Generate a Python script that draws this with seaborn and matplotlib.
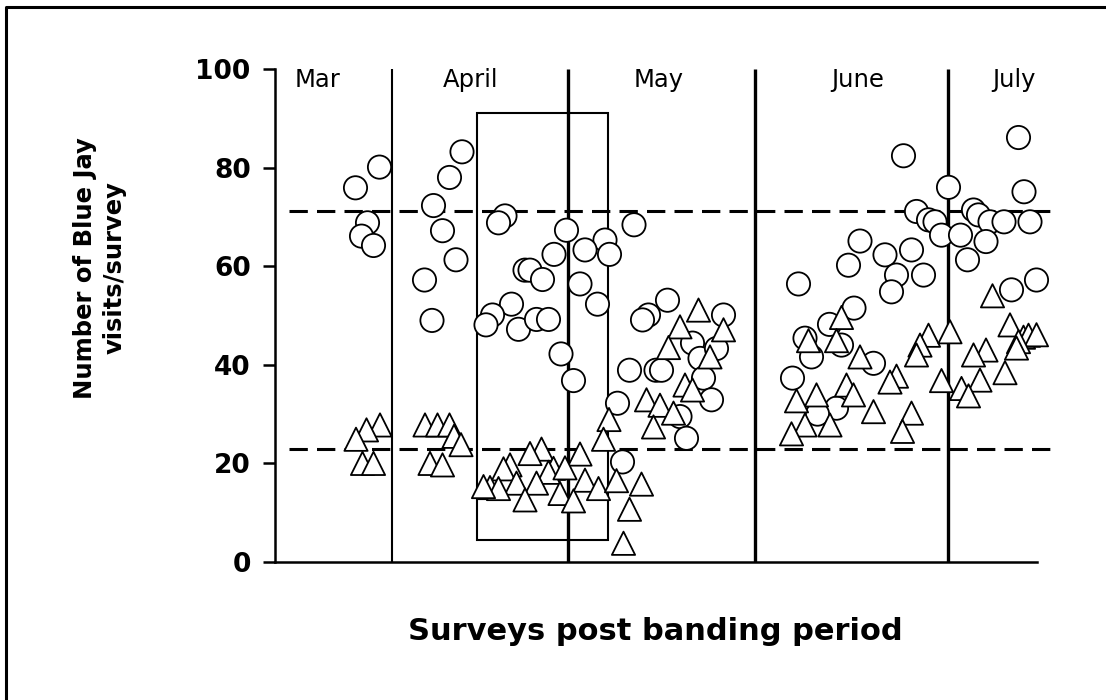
import matplotlib
matplotlib.use("Agg")
import matplotlib.pyplot as plt
import seaborn as sns
import pandas as pd
from matplotlib.lines import Line2D
from matplotlib.patches import Rectangle


# =====================
# Data
# =====================

circle_survey = [
    20.9, 16.1, 18.5, 17.3, 19.7,
    37.4, 34.9, 31.7, 33.5, 36.2, 29.9, 31.4,
    46.0, 44.7, 58.3, 66.0, 62.0, 66.9, 55.8, 50.0, 51.0, 53.5, 61.0,
    47.3, 64.5, 43.5, 42.2, 48.7, 52.3, 54.7, 57.2, 59.7,
    71.8, 78.5, 74.7, 73.5, 89.7, 83.5, 85.0, 88.3, 70.9, 76.2, 77.3,
    85.7, 87.3, 68.5, 81.0, 82.3, 69.5,
    125.7, 134.7, 128.3, 130.7, 132.0, 133.3, 117.0, 122.0, 127.3, 114.7,
    124.3, 129.7, 123.3, 104.7, 115.8, 110.9, 106.0, 113.3, 107.3, 119.7,
    103.5, 112.3, 108.5,
    148.7, 149.8, 139.7, 140.7, 143.0, 145.8, 151.0, 137.1, 142.2, 138.5,
    147.3, 152.3,
]

circle_visits = [
    80.1, 75.9, 68.8, 66.1, 64.2,
    83.2, 78.0, 72.3, 67.2, 61.3, 57.2, 49.0,
    70.2, 68.8, 67.3, 65.3, 63.3, 62.4, 62.4, 59.2, 59.2, 57.3, 56.4,
    52.3, 52.3, 50.1, 48.1, 47.2, 49.2, 49.2, 42.2, 36.8,
    68.4, 53.1, 50.1, 49.1, 50.1, 44.4, 41.3, 43.3, 38.9, 38.9, 38.9,
    37.3, 32.9, 32.2, 29.5, 25.1, 20.3,
    82.4, 76.0, 71.1, 69.4, 69.0, 66.3, 65.1, 62.3, 63.3, 60.2,
    58.2, 58.2, 54.8, 56.4, 51.5, 48.2, 45.4, 44.0, 41.6, 40.3,
    37.3, 31.2, 30.0,
    86.1, 75.1, 71.4, 70.4, 69.0, 69.0, 69.0, 66.3, 65.0, 61.3,
    55.2, 57.2,
]

triangle_survey = [
    21.0, 18.3, 16.2, 17.5, 19.7,
    30.0, 32.5, 34.9, 35.8, 37.2, 31.0, 33.5,
    53.3, 51.0, 61.0, 47.0, 45.7, 55.7, 54.7, 58.0, 62.0, 48.3, 52.3,
    43.0, 44.7, 64.7, 57.0, 50.0, 59.7, 41.7,
    66.8, 65.7, 84.7, 81.0, 89.7, 78.7, 87.0, 82.0, 83.5, 74.3, 77.0,
    79.7, 75.7, 68.3, 73.3, 70.9, 69.7,
    113.3, 106.7, 112.3, 117.0, 114.3, 115.7, 108.3, 104.3, 124.3, 123.0,
    119.7, 106.0, 111.0, 103.3, 127.3, 125.5, 130.7, 129.0, 128.3, 135.0,
    133.3,
    143.5, 147.0, 149.7, 150.7, 152.3, 148.7, 148.3, 142.2, 139.7, 146.0,
    141.0, 137.3, 138.7,
]

triangle_visits = [
    27.8, 26.8, 24.9, 20.0, 20.0,
    27.8, 27.8, 27.8, 25.5, 23.8, 20.0, 19.7,
    22.9, 22.0, 21.9, 19.7, 18.9, 19.0, 18.2, 19.1, 16.6, 16.0, 16.0,
    15.1, 14.9, 14.9, 13.9, 12.6, 12.4, 15.3,
    28.9, 24.9, 51.1, 47.7, 47.1, 43.5, 41.6, 35.9, 34.9, 32.9, 31.8,
    30.2, 27.4, 16.5, 15.8, 10.7, 3.8,
    49.6, 44.9, 44.9, 41.6, 35.9, 33.9, 33.9, 32.7, 37.7, 36.5,
    30.5, 27.8, 27.8, 26.0, 30.2, 26.5, 46.0, 44.0, 42.0, 46.7,
    36.8,
    54.0, 48.1, 45.6, 46.0, 46.1, 44.7, 43.4, 43.0, 42.0, 38.4,
    36.9, 35.2, 33.7,
]

month_names = ["Mar", "April", "May", "June", "July"]
month_centres = [8.5, 39.2, 76.7, 116.6, 147.8]
month_breaks = [23.3, 58.5, 96.0, 134.5]

reference_levels = [71.1, 22.9]

box_survey = [40.3, 66.5]
box_visits = [4.5, 91.0]

y_ticks = [0, 20, 40, 60, 80, 100]


# =====================
# Table for seaborn
# =====================

df = pd.concat([
    pd.DataFrame({
        "survey": circle_survey,
        "visits": circle_visits,
        "shape": "circle"
    }),
    pd.DataFrame({
        "survey": triangle_survey,
        "visits": triangle_visits,
        "shape": "triangle"
    })
], ignore_index=True)


# =====================
# Figure
# =====================

sns.set_theme(style="white")
plt.rcParams["font.family"] = ["DejaVu Sans"]
plt.rcParams["text.color"] = "black"
plt.rcParams["axes.labelcolor"] = "black"
plt.rcParams["ytick.color"] = "black"
plt.rcParams["xtick.color"] = "black"

fig = plt.figure(figsize=(11.06, 7), dpi=100)

ax = fig.add_axes([275 / 1106, 138 / 700, 780 / 1106, 493 / 700])

ax.set_xlim(0, 156)
ax.set_ylim(0, 100)


# month separators
ax.vlines(
    month_breaks,
    0,
    100,
    colors="black",
    linewidths=[1.5, 2.4, 2.4, 2.4],
    zorder=1,
    clip_on=False
)

# highlighted window
ax.add_patch(Rectangle(
    (box_survey[0], box_visits[0]),
    box_survey[1] - box_survey[0],
    box_visits[1] - box_visits[0],
    fill=False,
    edgecolor="black",
    linewidth=1.5,
    zorder=1
))

# reference levels
for level in reference_levels:
    ax.plot(
        [2.7, 156],
        [level, level],
        color="black",
        linewidth=2.2,
        linestyle=(0, (6, 3)),
        zorder=2,
        clip_on=False
    )


sns.scatterplot(
    data=df,
    x="survey",
    y="visits",
    style="shape",
    markers={"circle": "o", "triangle": "^"},
    color="white",
    edgecolor="black",
    linewidth=1.3,
    s=280,
    legend=False,
    ax=ax,
    zorder=3,
    clip_on=False
)


for name, pos in zip(month_names, month_centres):
    ax.text(
        pos,
        96.4,
        name,
        ha="center",
        va="baseline",
        fontsize=17.5,
        color="black"
    )


# axes styling
for side in ["top", "right"]:
    ax.spines[side].set_visible(False)

ax.spines["left"].set_linewidth(1.8)
ax.spines["bottom"].set_linewidth(1.8)
ax.spines["left"].set_color("black")
ax.spines["bottom"].set_color("black")
ax.spines["bottom"].set_bounds(0, 152.4)

ax.set_xticks([])
ax.set_yticks(y_ticks)
ax.set_yticklabels(
    [str(t) for t in y_ticks],
    fontsize=19,
    fontweight="bold",
    color="black"
)
ax.tick_params(
    axis="y",
    direction="out",
    length=8.5,
    width=1.8,
    color="black",
    labelcolor="black",
    pad=9,
    left=True
)

ax.set_xlabel("")
ax.set_ylabel("")

fig.text(
    100 / 1106,
    1 - 268 / 700,
    "Number of Blue Jay\nvisits/survey",
    rotation=90,
    ha="center",
    va="center",
    multialignment="center",
    fontsize=17.5,
    fontweight="bold",
    linespacing=1.3,
    color="black"
)

fig.text(
    655 / 1106,
    1 - 632 / 700,
    "Surveys post banding period",
    ha="center",
    va="center",
    fontsize=22,
    fontweight="bold",
    color="black"
)


# page frame (left and top edges)
fig.add_artist(Line2D(
    [6 / 1106, 6 / 1106, 1.0],
    [0.0, 1 - 7 / 700, 1 - 7 / 700],
    transform=fig.transFigure,
    color="black",
    linewidth=2.2
))


fig.savefig("out.png", dpi=100)
plt.close(fig)
